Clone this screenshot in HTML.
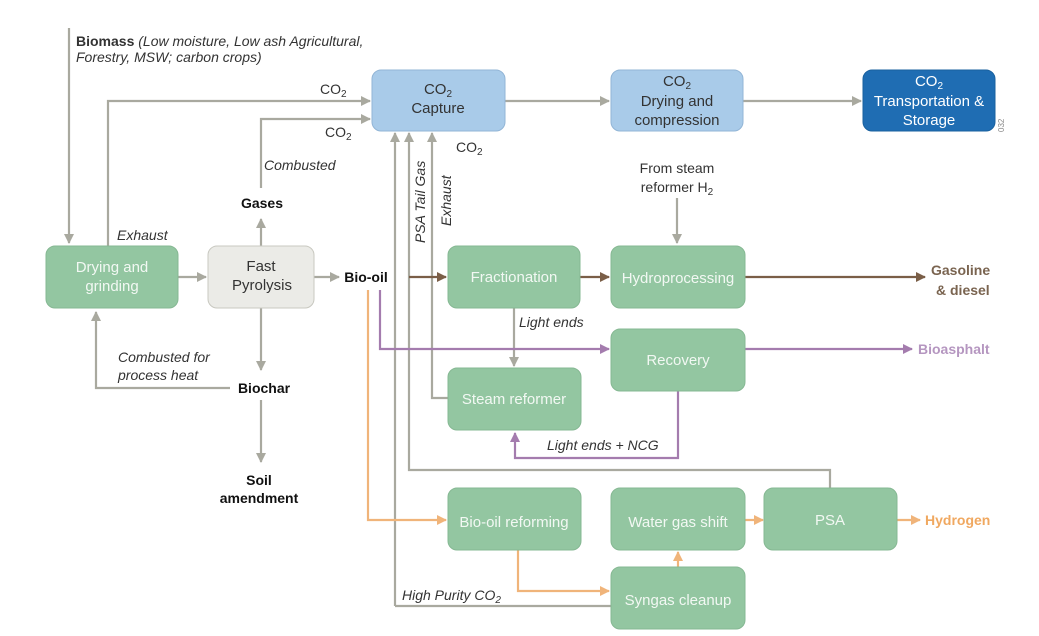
<!DOCTYPE html>
<html><head><meta charset="utf-8"><style>
html,body{margin:0;padding:0;background:#fff}
svg{display:block}
text{font-family:"Liberation Sans",sans-serif}
</style></head><body>
<svg width="1039" height="636" viewBox="0 0 1039 636" xmlns="http://www.w3.org/2000/svg">
<defs>
<marker id="g" markerWidth="10" markerHeight="10" refX="9" refY="5" orient="auto" markerUnits="userSpaceOnUse"><path d="M0,0 L10,5 L0,10 z" fill="#a9a99f"/></marker>
<marker id="b" markerWidth="10" markerHeight="10" refX="9" refY="5" orient="auto" markerUnits="userSpaceOnUse"><path d="M0,0 L10,5 L0,10 z" fill="#7a5e47"/></marker>
<marker id="p" markerWidth="10" markerHeight="10" refX="9" refY="5" orient="auto" markerUnits="userSpaceOnUse"><path d="M0,0 L10,5 L0,10 z" fill="#a47cae"/></marker>
<marker id="o" markerWidth="10" markerHeight="10" refX="9" refY="5" orient="auto" markerUnits="userSpaceOnUse"><path d="M0,0 L10,5 L0,10 z" fill="#f0b47a"/></marker>
</defs>
<g fill="none" stroke-width="2.2">
<g stroke="#a9a99f">
<path d="M69 28 V243" marker-end="url(#g)"/>
<path d="M108 246 V101 H370" marker-end="url(#g)"/>
<path d="M261 246 V219" marker-end="url(#g)"/>
<path d="M261 188 V119 H370" marker-end="url(#g)"/>
<path d="M178 277 H206" marker-end="url(#g)"/>
<path d="M314 277 H339" marker-end="url(#g)"/>
<path d="M395 606 V133" marker-end="url(#g)"/>
<path d="M896 606 H611" stroke="none"/>
<path d="M611 606 H395"/>
<path d="M830 488 V470 H409 V133" marker-end="url(#g)"/>
<path d="M448 398 H432 V133" marker-end="url(#g)"/>
<path d="M514 308 V366" marker-end="url(#g)"/>
<path d="M677 198 V243" marker-end="url(#g)"/>
<path d="M505 101 H609" marker-end="url(#g)"/>
<path d="M743 101 H861" marker-end="url(#g)"/>
<path d="M261 308 V370" marker-end="url(#g)"/>
<path d="M230 388 H96 V312" marker-end="url(#g)"/>
<path d="M261 400 V462" marker-end="url(#g)"/>
</g>
<path stroke="#7a5e47" d="M409 277 H446" marker-end="url(#b)"/>
<path stroke="#7a5e47" d="M580 277 H609" marker-end="url(#b)"/>
<path stroke="#7a5e47" d="M745 277 H925" marker-end="url(#b)"/>
<g stroke="#a47cae">
<path d="M380 290 V349 H609" marker-end="url(#p)"/>
<path d="M745 349 H912" marker-end="url(#p)"/>
<path d="M678 391 V458 H515 V433" marker-end="url(#p)"/>
</g>
<g stroke="#f0b47a">
<path d="M368 290 V520 H446" marker-end="url(#o)"/>
<path d="M518 550 V591 H609" marker-end="url(#o)"/>
<path d="M678 567 V552" marker-end="url(#o)"/>
<path d="M745 520 H763" marker-end="url(#o)"/>
<path d="M897 520 H920" marker-end="url(#o)"/>
</g>
</g>
<g stroke-width="1">
<rect x="46" y="246" width="132" height="62" rx="9" fill="#93c6a1" stroke="#86b893"/>
<rect x="208" y="246" width="106" height="62" rx="9" fill="#ebebe7" stroke="#c8c8c0"/>
<rect x="372" y="70" width="133" height="61" rx="9" fill="#a9cbe9" stroke="#92b5d6"/>
<rect x="611" y="70" width="132" height="61" rx="9" fill="#a9cbe9" stroke="#92b5d6"/>
<rect x="863" y="70" width="132" height="61" rx="9" fill="#1f6db3" stroke="#1a619f"/>
<rect x="448" y="246" width="132" height="62" rx="9" fill="#93c6a1" stroke="#86b893"/>
<rect x="611" y="246" width="134" height="62" rx="9" fill="#93c6a1" stroke="#86b893"/>
<rect x="611" y="329" width="134" height="62" rx="9" fill="#93c6a1" stroke="#86b893"/>
<rect x="448" y="368" width="133" height="62" rx="9" fill="#93c6a1" stroke="#86b893"/>
<rect x="448" y="488" width="133" height="62" rx="9" fill="#93c6a1" stroke="#86b893"/>
<rect x="611" y="488" width="134" height="62" rx="9" fill="#93c6a1" stroke="#86b893"/>
<rect x="764" y="488" width="133" height="62" rx="9" fill="#93c6a1" stroke="#86b893"/>
<rect x="611" y="567" width="134" height="62" rx="9" fill="#93c6a1" stroke="#86b893"/>
</g>
<g font-size="15" text-anchor="middle" fill="#f2f8f3">
<text x="112" y="272">Drying and</text><text x="112" y="291">grinding</text>
<text x="514" y="282">Fractionation</text>
<text x="678" y="283">Hydroprocessing</text>
<text x="678" y="365">Recovery</text>
<text x="514" y="404">Steam reformer</text>
<text x="514" y="527">Bio-oil reforming</text>
<text x="678" y="527">Water gas shift</text>
<text x="830" y="525">PSA</text>
<text x="678" y="605">Syngas cleanup</text>
</g>
<g font-size="15" text-anchor="middle" fill="#333">
<text x="261" y="271">Fast</text><text x="262" y="290">Pyrolysis</text>
<text x="438" y="94">CO<tspan font-size="10" dy="3">2</tspan></text>
<text x="438" y="113">Capture</text>
<text x="677" y="86">CO<tspan font-size="10" dy="3">2</tspan></text>
<text x="677" y="106">Drying and</text><text x="677" y="125">compression</text>
<text x="677" y="173" font-size="14">From steam</text>
<text x="677" y="192" font-size="14">reformer H<tspan font-size="10" dy="3">2</tspan></text>
</g>
<g font-size="15" text-anchor="middle" fill="#fff">
<text x="929" y="86">CO<tspan font-size="10" dy="3">2</tspan></text>
<text x="929" y="106">Transportation &amp;</text><text x="929" y="125">Storage</text>
</g>
<g font-size="14" fill="#333">
<text x="320" y="94">CO<tspan font-size="10" dy="3">2</tspan></text>
<text x="325" y="137">CO<tspan font-size="10" dy="3">2</tspan></text>
<text x="456" y="152">CO<tspan font-size="10" dy="3">2</tspan></text>
<g font-style="italic">
<text x="264" y="170">Combusted</text>
<text x="117" y="240">Exhaust</text>
<text x="118" y="362">Combusted for</text>
<text x="118" y="380">process heat</text>
<text x="519" y="327">Light ends</text>
<text x="547" y="450">Light ends + NCG</text>
<text x="402" y="600">High Purity CO<tspan font-size="10" dy="3">2</tspan></text>
<text transform="translate(425,243) rotate(-90)">PSA Tail Gas</text>
<text transform="translate(451,226) rotate(-90)">Exhaust</text>
</g>
<text x="76" y="46"><tspan font-weight="bold">Biomass</tspan> <tspan font-style="italic">(Low moisture, Low ash Agricultural,</tspan></text>
<text x="76" y="62" font-style="italic">Forestry, MSW; carbon crops)</text>
</g>
<g font-size="14" font-weight="bold" fill="#111" text-anchor="middle">
<text x="262" y="208">Gases</text>
<text x="366" y="282">Bio-oil</text>
<text x="264" y="393">Biochar</text>
<text x="259" y="485">Soil</text>
<text x="259" y="503">amendment</text>
</g>
<g font-size="14" font-weight="bold">
<text x="931" y="275" fill="#7a6450">Gasoline</text>
<text x="936" y="295" fill="#7a6450">&amp; diesel</text>
<text x="918" y="354" fill="#b596c0">Bioasphalt</text>
<text x="925" y="525" fill="#f0a860">Hydrogen</text>
</g>
<text transform="translate(1004,132) rotate(-90)" font-size="8" fill="#888">032</text>
</svg>
</body></html>
